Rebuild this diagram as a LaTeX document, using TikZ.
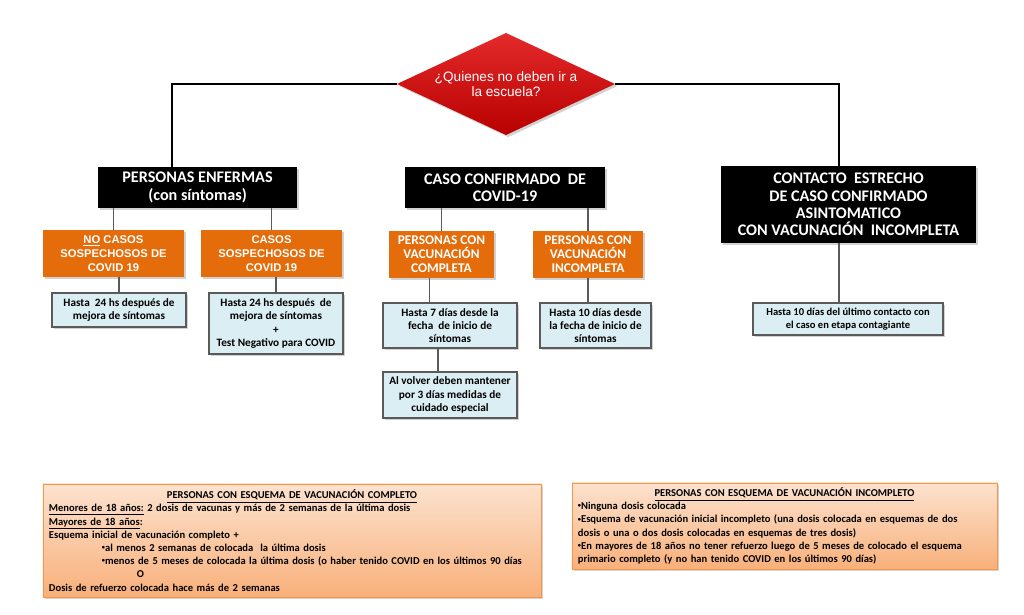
\documentclass[tikz,border=0pt]{standalone}
\usepackage{fontspec}
\setmainfont{Carlito}
\newfontfamily\arialfont{Liberation Sans}
\usetikzlibrary{shapes.geometric,shadows}
\definecolor{naranja}{HTML}{E46C0A}
\definecolor{celeste}{HTML}{DBEEF4}
\definecolor{durazno}{HTML}{FCE2CF}
\definecolor{duraznoosc}{HTML}{F8B07A}
\definecolor{bordeesq}{HTML}{F79646}
\definecolor{rojoclaro}{HTML}{E42A2A}
\definecolor{rojoosc}{HTML}{B80000}
\definecolor{gris}{HTML}{5A5A5A}
\newcommand{\vineta}{\raisebox{.35ex}{\fontsize{4.5}{5}\selectfont•}}
\tikzset{
  sombra/.style={drop shadow={shadow xshift=1.5pt,shadow yshift=-1.5pt,opacity=.35}},
  pregunta/.style={diamond,aspect=2.14,inner sep=0pt,outer sep=0pt,top color=rojoclaro,bottom color=rojoosc,
    text=white,align=center,font=\arialfont\fontsize{9.7}{10.2}\selectfont,sombra},
  negro/.style={fill=black,text=white,align=center,inner sep=0pt,outer sep=0pt,
    font=\fontsize{11.5}{12.3}\selectfont\bfseries,sombra},
  naranjo/.style={fill=naranja,text=white,align=center,inner sep=0pt,outer sep=0pt,sombra},
  celestebox/.style={fill=celeste,draw=gris,line width=.8pt,align=center,inner sep=0pt,outer sep=0pt,
    font=\fontsize{8}{9.3}\selectfont\bfseries,sombra},
  esquema/.style={top color=durazno,bottom color=duraznoosc,draw=bordeesq,line width=.6pt,align=left,
    inner xsep=0.15cm,inner ysep=0pt,outer sep=0pt,font=\fontsize{7.5}{9.4}\selectfont\bfseries,sombra},
  tronco/.style={line width=1.8pt},
  rama/.style={draw=gris,line width=1pt}
}
\begin{document}
\begin{tikzpicture}[x=0.025cm,y=-0.025cm]
\useasboundingbox (0,0) rectangle (1024,615);
\fill[white] (0,0) rectangle (1024,615);

\node[pregunta,minimum width=5.45cm,minimum height=2.55cm] (q) at (506,84) {¿Quienes no deben ir a\\la escuela?};

\node[negro,minimum width=4.975cm,minimum height=1.025cm] (enf) at (197.5,187.5) {PERSONAS ENFERMAS\\(con síntomas)};
\node[negro,minimum width=5cm,minimum height=1.025cm] (conf) at (505,187.5) {CASO CONFIRMADO~ DE\\COVID-19};
\node[negro,minimum width=6.375cm,minimum height=1.925cm] (cont) at (848.5,204.5) {CONTACTO~ ESTRECHO\\DE CASO CONFIRMADO\\ASINTOMATICO\\CON VACUNACIÓN~ INCOMPLETA};

\node[naranjo,minimum width=3.525cm,minimum height=1.175cm,font=\arialfont\fontsize{8}{10}\selectfont\bfseries] (nocasos) at (113.5,253.5) {\underline{NO} CASOS\\SOSPECHOSOS DE\\COVID 19};
\node[naranjo,minimum width=3.525cm,minimum height=1.175cm,font=\arialfont\fontsize{8}{10}\selectfont\bfseries] (casos) at (271.5,253.5) {CASOS\\SOSPECHOSOS DE\\COVID 19};
\node[naranjo,minimum width=2.625cm,minimum height=1.175cm,font=\fontsize{9.5}{10}\selectfont\bfseries] (vcomp) at (441.5,254.5) {PERSONAS CON\\VACUNACIÓN\\COMPLETA};
\node[naranjo,minimum width=2.75cm,minimum height=1.175cm,font=\fontsize{9.5}{10}\selectfont\bfseries] (vinc) at (588,254.5) {PERSONAS CON\\VACUNACIÓN\\INCOMPLETA};

\node[celestebox,minimum width=3.35cm,minimum height=0.85cm] (h1) at (119,310) {Hasta~ 24 hs después de\\mejora de síntomas};
\node[celestebox,minimum width=3.35cm,minimum height=1.525cm] (h2) at (276,323.5) {Hasta 24 hs después~ de\\mejora de síntomas\\+\\Test Negativo para COVID};
\node[celestebox,minimum width=3.35cm,minimum height=1.125cm] (h3) at (450,325.5) {Hasta 7 días desde la\\fecha~ de inicio de\\síntomas};
\node[celestebox,minimum width=2.775cm,minimum height=1.125cm] (h4) at (595.5,325.5) {Hasta 10 días desde\\la fecha de inicio de\\síntomas};
\node[celestebox,minimum width=3.35cm,minimum height=1.15cm] (h5) at (450,395) {Al volver deben mantener\\por 3 días medidas de\\cuidado especial};
\node[celestebox,minimum width=4.75cm,minimum height=0.8cm,font=\fontsize{7.5}{9.3}\selectfont\bfseries] (h6) at (848,319) {Hasta 10 días del último contacto con\\el caso en etapa contagiante};

\node[esquema,text width=12.15cm,minimum height=2.825cm] (esqc) at (292,540.5) {%
\makebox[\linewidth]{\underline{PERSONAS CON ESQUEMA DE VACUNACIÓN COMPLETO}}\\
\underline{Menores de 18 años:} 2 dosis de vacunas y más de 2 semanas de la última dosis\\
\underline{Mayores de 18 años}:\\
Esquema inicial de vacunación completo +\\
\hspace*{1.325cm}\vineta al menos 2 semanas de colocada~ la última dosis\\
\hspace*{1.325cm}\vineta menos de 5 meses de colocada la última dosis (o haber tenido COVID en los últimos 90 días\\
\hspace*{2.2cm}O\\
Dosis de refuerzo colocada hace más de 2 semanas};
\node[esquema,text width=10.325cm,minimum height=2.15cm] (esqi) at (784.5,526) {%
\makebox[\linewidth]{\underline{PERSONAS CON ESQUEMA DE VACUNACIÓN INCOMPLETO}}\\
\vineta Ninguna dosis colocada\\
\vineta Esquema de vacunación inicial incompleto (una dosis colocada en esquemas de dos\\
dosis o una o dos dosis colocadas en esquemas de tres dosis)\\
\vineta En mayores de 18 años no tener refuerzo luego de 5 meses de colocado el esquema\\
primario completo (y no han tenido COVID en los últimos 90 días)};

\draw[tronco] (q.west) -| ([xshift=-0.64cm]enf.north);
\draw[tronco] (q.east) -| ([xshift=-0.24cm]cont.north);

\draw[rama] (enf.south -| nocasos.north) -- (nocasos.north);
\draw[rama] (enf.south -| casos.north) -- (casos.north);
\draw[rama] (nocasos.south -| h1.north) -- (h1.north);
\draw[rama] (casos.south -| h2.north) -- (h2.north);
\draw[rama] (conf.south -| vcomp.north) -- (vcomp.north);
\draw[rama] (conf.south -| vinc.north) -- (vinc.north);
\draw[rama] ([xshift=-0.3cm]vcomp.south) -- ([xshift=-0.3cm]vcomp.south |- h3.north);
\draw[rama] (vinc.south) -- (vinc.south |- h4.north);
\draw[rama] ([xshift=-0.3cm]h3.south) -- ([xshift=-0.3cm]h3.south |- h5.north);
\draw[rama] ([xshift=-0.24cm]cont.south) -- ([xshift=-0.24cm]cont.south |- h6.north);
\end{tikzpicture}
\end{document}
